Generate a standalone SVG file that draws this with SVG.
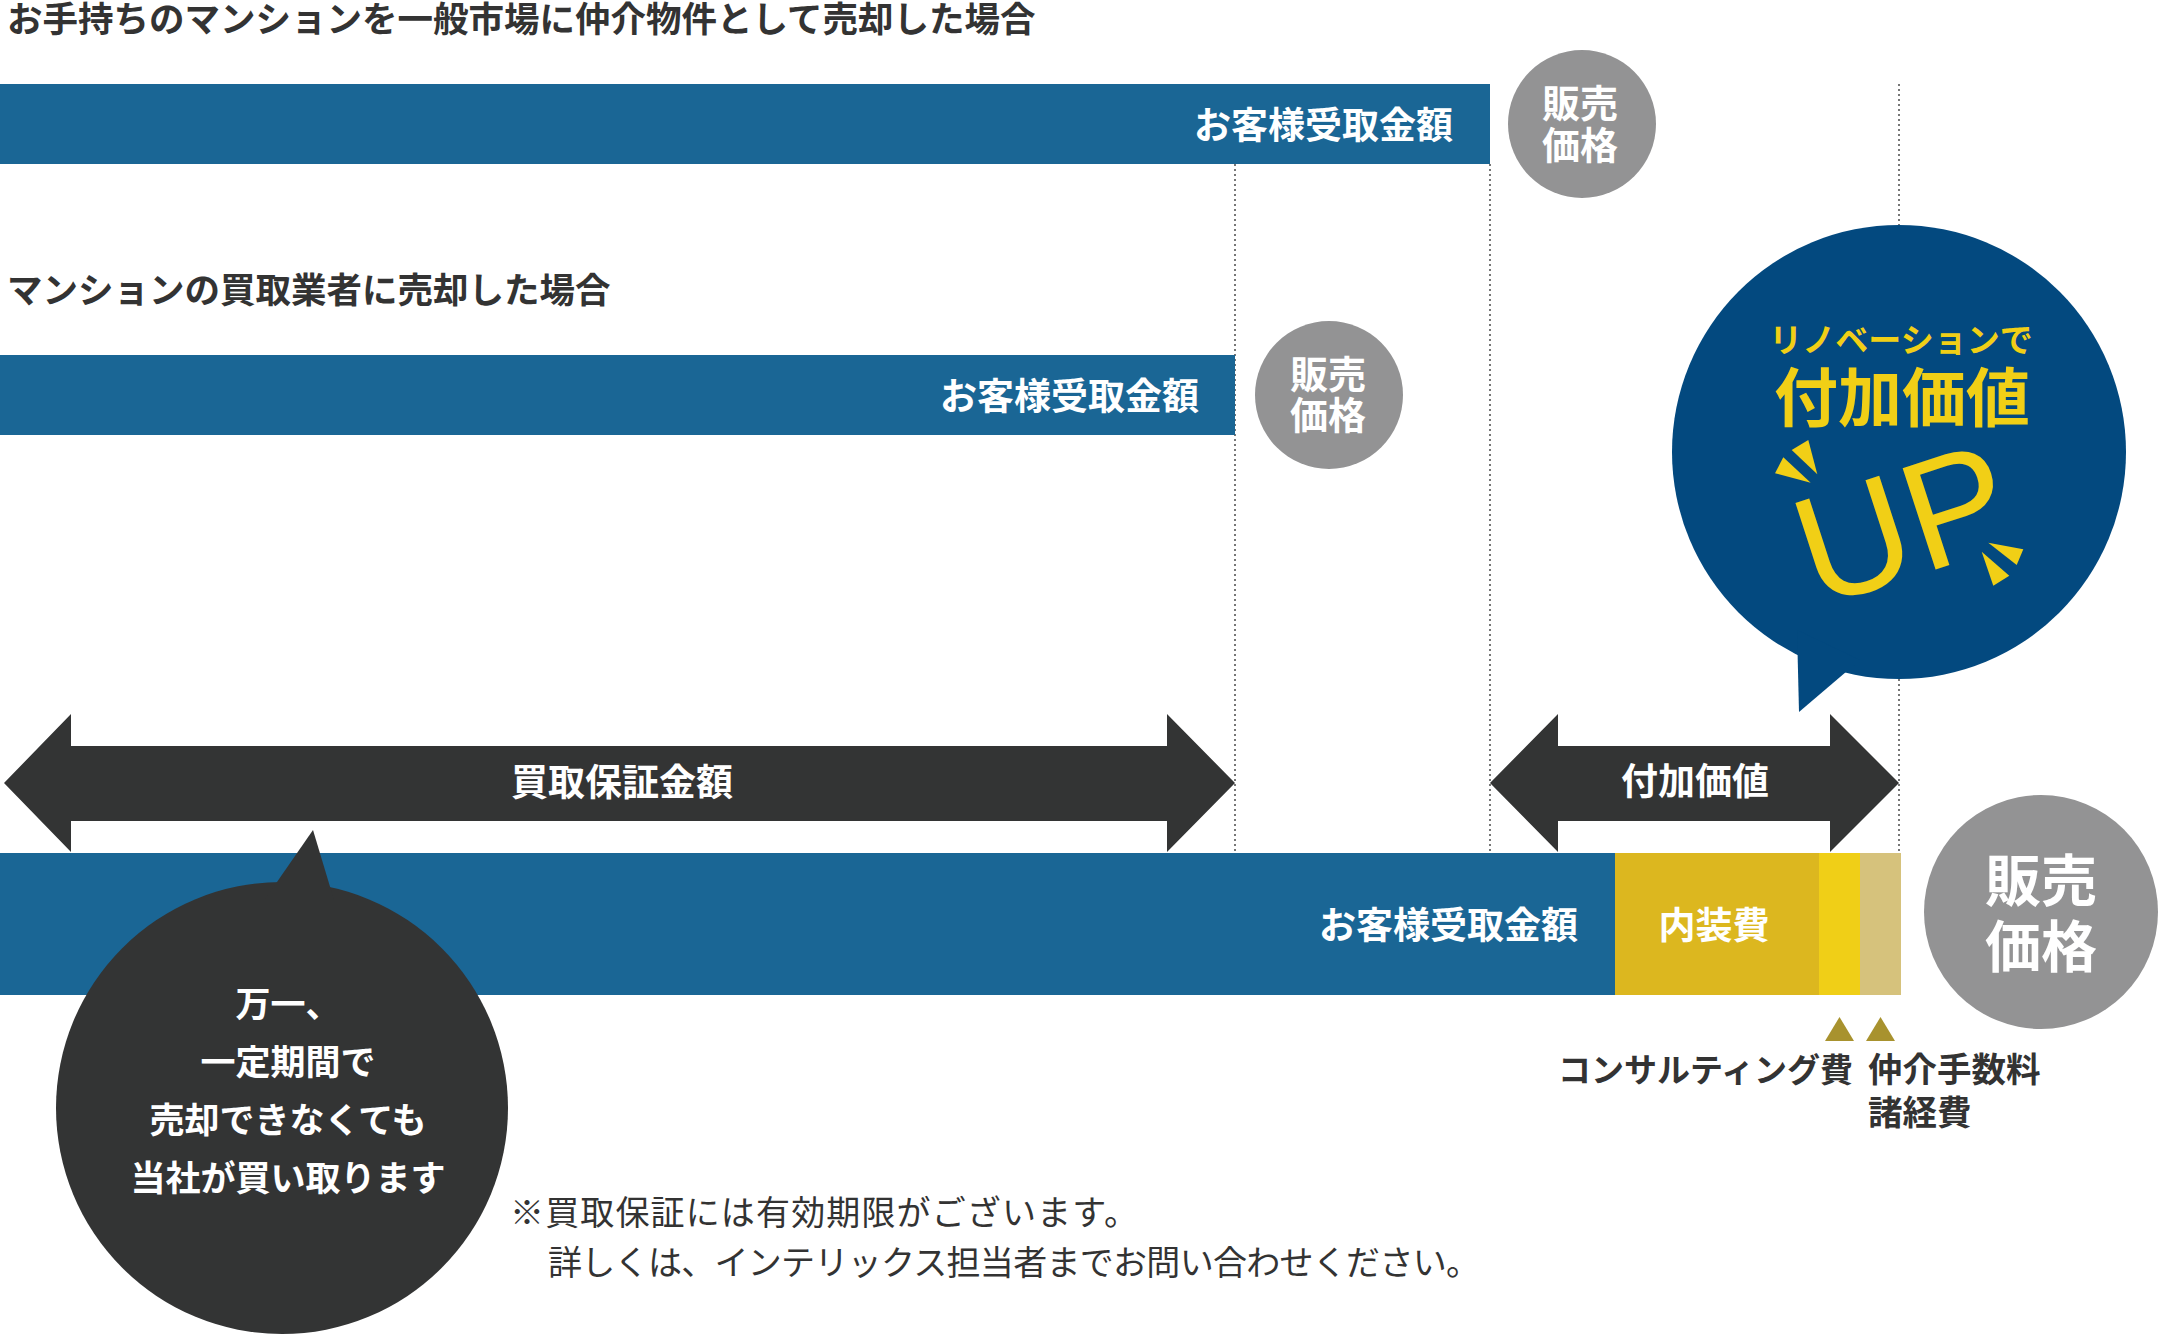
<svg xmlns="http://www.w3.org/2000/svg" width="2159" height="1335" viewBox="0 0 2159 1335">
<style>
text{font-family:"Noto Sans CJK JP","Noto Sans",sans-serif}
.t{font-weight:700;fill:#333333;font-size:35.5px}
.w{font-weight:700;fill:#ffffff}
.bar{fill:#1a6695}
.dark{fill:#333434}
.gray{fill:#939394}
.dot{stroke:#555555;stroke-width:1.6;stroke-dasharray:2 3;fill:none}
.note{fill:#333333;font-size:34px;font-weight:400}
.lbl{fill:#333333;font-weight:700}
.yl{fill:#f1cf16}
</style>

<g id="connectors">
<line class="dot" x1="1235" y1="164" x2="1235" y2="853"/>
<line class="dot" x1="1490" y1="164" x2="1490" y2="853"/>
<line class="dot" x1="1899" y1="84" x2="1899" y2="853"/>
</g>

<g id="title-market">
<text class="t" x="7" y="32">お手持ちのマンションを一般市場に仲介物件として売却した場合</text>
</g>
<g id="bar-market">
<rect class="bar" x="0" y="84" width="1490" height="80"/>
<text class="w" x="1453" y="139" font-size="37" text-anchor="end">お客様受取金額</text>
</g>
<g id="price-market">
<circle class="gray" cx="1582" cy="124" r="74"/>
<text class="w" x="1580" y="117" font-size="38" text-anchor="middle">販売</text>
<text class="w" x="1580" y="159" font-size="38" text-anchor="middle">価格</text>
</g>

<g id="title-dealer">
<text class="t" x="7" y="303">マンションの買取業者に売却した場合</text>
</g>
<g id="bar-dealer">
<rect class="bar" x="0" y="355" width="1235" height="80"/>
<text class="w" x="1199" y="410" font-size="37" text-anchor="end">お客様受取金額</text>
</g>
<g id="price-dealer">
<circle class="gray" cx="1329" cy="395" r="74"/>
<text class="w" x="1328" y="388" font-size="38" text-anchor="middle">販売</text>
<text class="w" x="1328" y="429" font-size="38" text-anchor="middle">価格</text>
</g>

<g id="arrow-guarantee">
<polygon class="dark" points="4,783 71,714 71,746 1167,746 1167,714 1235,783 1167,852 1167,821 71,821 71,852"/>
<text class="w" x="622" y="796" font-size="37" text-anchor="middle">買取保証金額</text>
</g>

<g id="arrow-added">
<polygon class="dark" points="1490,783 1558,714 1558,746 1830,746 1830,714 1899,783 1830,852 1830,821 1558,821 1558,852"/>
<text class="w" x="1695" y="795" font-size="37" text-anchor="middle">付加価値</text>
</g>

<g id="bar-renovation">
<rect class="bar" x="0" y="853" width="1615" height="142"/>
<rect x="1615" y="853" width="204" height="142" fill="#dcb71f"/>
<rect x="1819" y="853" width="41" height="142" fill="#f0cf17"/>
<rect x="1860" y="853" width="41" height="142" fill="#d6c27c"/>
<text class="w" x="1578" y="939" font-size="37" text-anchor="end">お客様受取金額</text>
<text class="w" x="1714" y="939" font-size="37" text-anchor="middle">内装費</text>
</g>

<g id="price-renovation">
<circle class="gray" cx="2041" cy="912" r="117"/>
<text class="w" x="2041" y="901" font-size="56" text-anchor="middle">販売</text>
<text class="w" x="2041" y="967" font-size="56" text-anchor="middle">価格</text>
</g>

<g id="fee-labels">
<polygon points="1825,1041 1839.5,1017 1854,1041" fill="#a8922e"/>
<polygon points="1866,1041 1880.5,1017 1895,1041" fill="#a8922e"/>
<text class="lbl" x="1853" y="1082" font-size="33" text-anchor="end">コンサルティング費</text>
<text class="lbl" x="1868" y="1082" font-size="34.5">仲介手数料</text>
<text class="lbl" x="1868" y="1125" font-size="34.5">諸経費</text>
</g>

<g id="bubble-up">
<circle cx="1899" cy="452" r="227" fill="#03497f"/>
<polygon points="1797,630 1799,712 1860,660" fill="#03497f"/>
<text class="yl" x="1901" y="352" font-size="33" font-weight="700" text-anchor="middle">リノベーションで</text>
<text class="yl" x="1902" y="421" font-size="64" font-weight="700" text-anchor="middle">付加価値</text>
<text class="yl" transform="translate(1817,608) rotate(-18)" font-size="155" style="font-family:'Liberation Sans',sans-serif">UP</text>
<polygon class="yl" points="1791.7,450 1808.3,440 1817.3,474.3"/>
<polygon class="yl" points="1775,473.3 1783.3,457.3 1810.7,482.7"/>
<polygon class="yl" points="1988.3,542.7 2023.3,549.3 2016.7,565"/>
<polygon class="yl" points="1981.7,551.7 2009.3,575.7 1993.3,585.7"/>
</g>

<g id="bubble-guarantee">
<circle class="dark" cx="282" cy="1108" r="226"/>
<polygon class="dark" points="313,830 264.5,900 334,900"/>
<text class="w" x="288" y="1017" font-size="35" text-anchor="middle">万一、</text>
<text class="w" x="288" y="1075" font-size="35" text-anchor="middle">一定期間で</text>
<text class="w" x="288" y="1133" font-size="35" text-anchor="middle">売却できなくても</text>
<text class="w" x="288" y="1191" font-size="35" text-anchor="middle">当社が買い取ります</text>
</g>

<g id="note">
<text class="note" x="510" y="1225" textLength="628" lengthAdjust="spacing">※買取保証には有効期限がございます。</text>
<text class="note" x="548" y="1275" textLength="932" lengthAdjust="spacing">詳しくは、インテリックス担当者までお問い合わせください。</text>
</g>
</svg>
